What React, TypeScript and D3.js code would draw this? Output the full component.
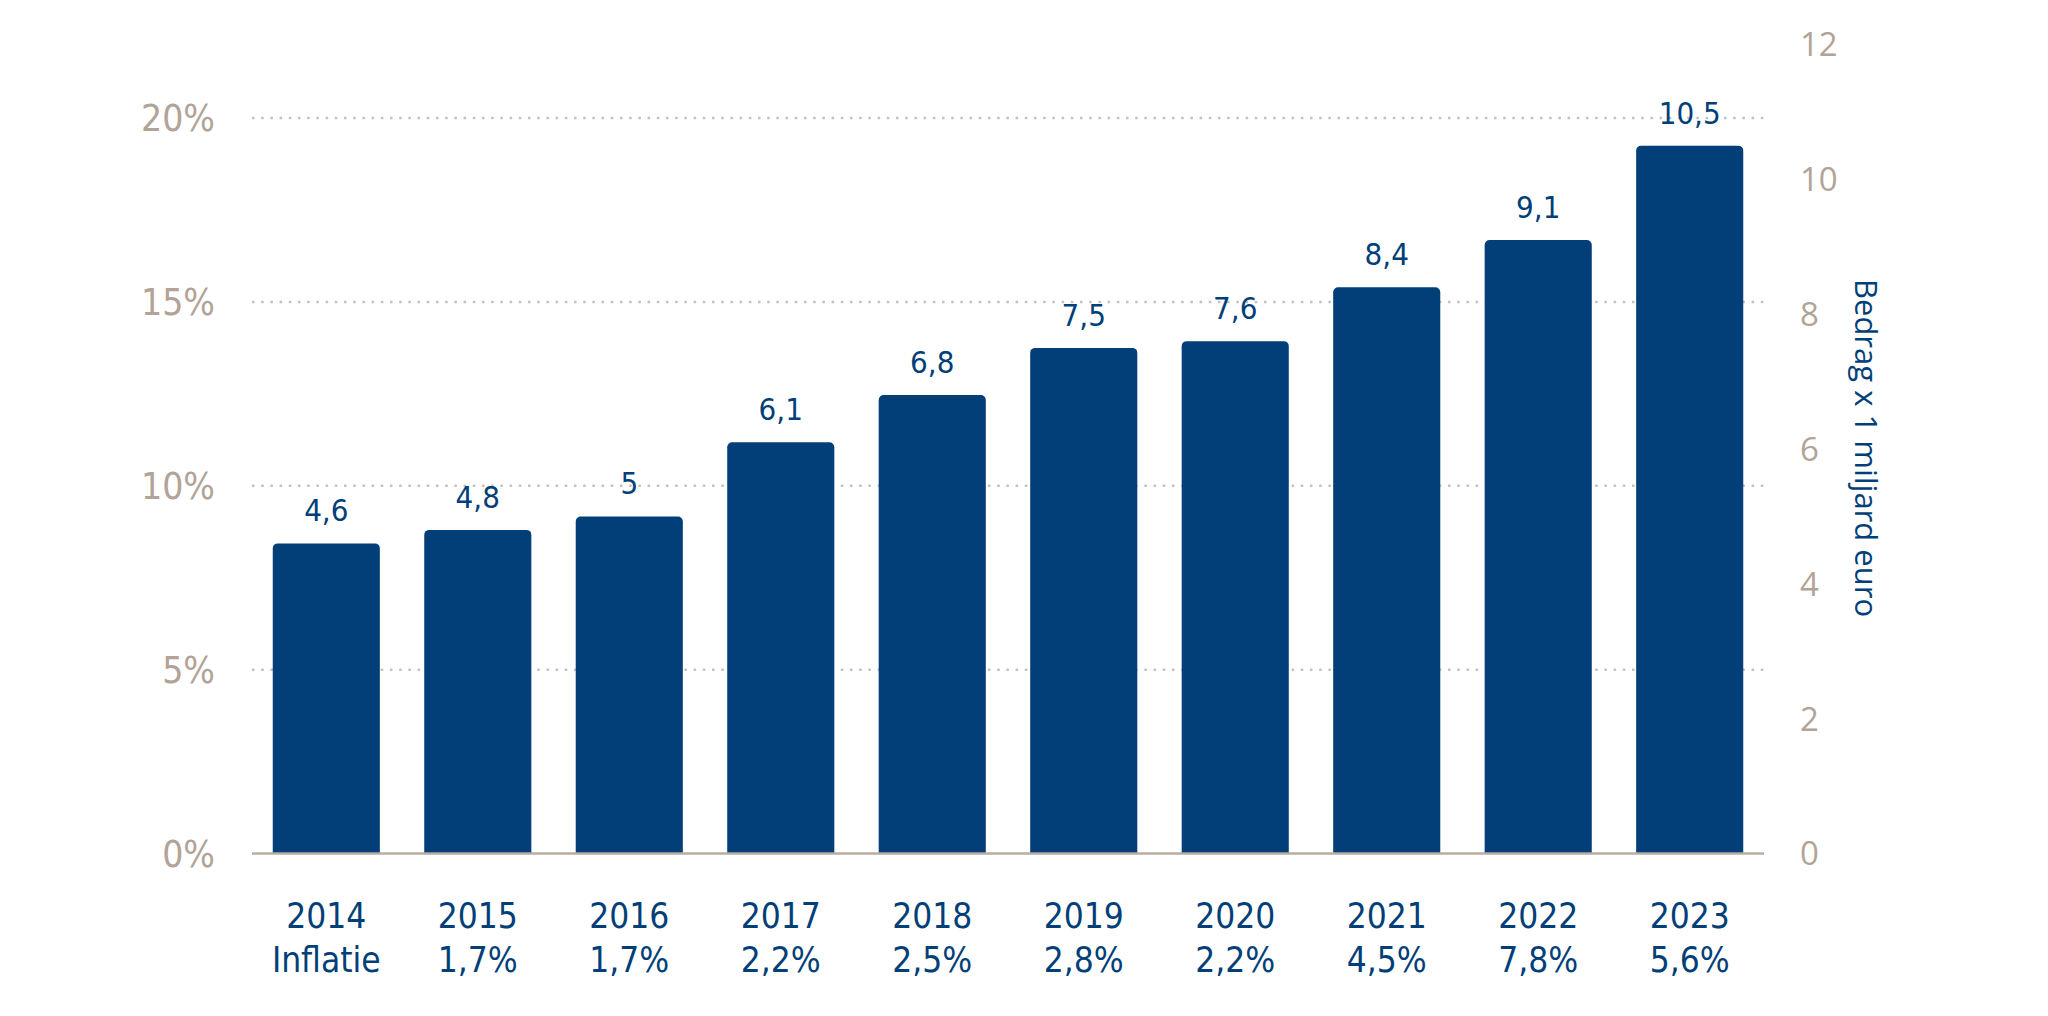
import * as d3 from "d3";
import { useEffect, useRef } from "react";

const years = ["2014", "2015", "2016", "2017", "2018", "2019", "2020", "2021", "2022", "2023"];
const amounts = [4.6, 4.8, 5, 6.1, 6.8, 7.5, 7.6, 8.4, 9.1, 10.5];
const amountLabels = ["4,6", "4,8", "5", "6,1", "6,8", "7,5", "7,6", "8,4", "9,1", "10,5"];
const inflation = ["Inflatie", "1,7%", "1,7%", "2,2%", "2,5%", "2,8%", "2,2%", "4,5%", "7,8%", "5,6%"];
const leftTicks = [0, 5, 10, 15, 20];
const rightTicks = [0, 2, 4, 6, 8, 10, 12];

const BLUE = "#023f78";
const TAN = "#b2a397";
const GRID = "#c2c2c2";
const NARROW = "'Liberation Sans Narrow', 'DejaVu Sans Condensed', 'Open Sans', sans-serif";
const REGULAR = "'Open Sans', 'Noto Sans', sans-serif";

export default function App() {
  const ref = useRef<SVGSVGElement | null>(null);

  useEffect(() => {
    const el = ref.current;
    if (!el) return;
    const svg = d3.select(el);
    svg.selectAll("*").remove();

    const W = 2048;
    const H = 1016;
    const x0 = 252;
    const x1 = 1764;
    const yBase = 853.5;
    const yTop = 44.5;

    const x = d3
      .scaleBand()
      .domain(years)
      .range([x0, x1])
      .paddingInner(0.293)
      .paddingOuter(0.137);
    const yPct = d3.scaleLinear().domain([0, 22]).range([yBase, yTop]);
    const yAmt = d3.scaleLinear().domain([0, 12]).range([yBase, yTop]);

    svg.attr("viewBox", `0 0 ${W} ${H}`).attr("width", W).attr("height", H);

    // dotted gridlines (left axis)
    svg
      .append("g")
      .selectAll("line")
      .data(leftTicks.filter((t) => t > 0))
      .join("line")
      .attr("x1", x0)
      .attr("x2", x1)
      .attr("y1", (d) => yPct(d))
      .attr("y2", (d) => yPct(d))
      .attr("stroke", GRID)
      .attr("stroke-width", 2.5)
      .attr("stroke-dasharray", "2.5,6.7");

    // left tick labels
    svg
      .append("g")
      .selectAll("text")
      .data(leftTicks)
      .join("text")
      .attr("x", 215)
      .attr("y", (d) => yPct(d))
      .attr("dy", "0.36em")
      .attr("text-anchor", "end")
      .attr("fill", TAN)
      .attr("font-family", NARROW)
      .attr("font-size", 37)
      .text((d) => `${d}%`);

    // right tick labels
    svg
      .append("g")
      .selectAll("text")
      .data(rightTicks)
      .join("text")
      .attr("x", 1800)
      .attr("y", (d) => yAmt(d))
      .attr("dy", "0.36em")
      .attr("text-anchor", "start")
      .attr("fill", TAN)
      .attr("font-family", REGULAR)
      .attr("font-size", 33)
      .text((d) => String(d));

    // bars with rounded tops
    const r = 5;
    svg
      .append("g")
      .selectAll("path")
      .data(amounts)
      .join("path")
      .attr("fill", BLUE)
      .attr("d", (d, i) => {
        const bx = x(years[i]) ?? 0;
        const bw = x.bandwidth();
        const top = yAmt(d);
        const p = d3.path();
        p.moveTo(bx, yBase);
        p.lineTo(bx, top + r);
        p.arcTo(bx, top, bx + r, top, r);
        p.lineTo(bx + bw - r, top);
        p.arcTo(bx + bw, top, bx + bw, top + r, r);
        p.lineTo(bx + bw, yBase);
        p.closePath();
        return p.toString();
      });

    // baseline
    svg
      .append("line")
      .attr("x1", x0)
      .attr("x2", x1)
      .attr("y1", yBase)
      .attr("y2", yBase)
      .attr("stroke", "#b8aca2")
      .attr("stroke-width", 2.5);

    // value labels
    svg
      .append("g")
      .selectAll("text")
      .data(amounts)
      .join("text")
      .attr("x", (_, i) => (x(years[i]) ?? 0) + x.bandwidth() / 2)
      .attr("y", (d) => yAmt(d) - 22)
      .attr("text-anchor", "middle")
      .attr("fill", BLUE)
      .attr("font-family", NARROW)
      .attr("font-size", 31)
      .text((_, i) => amountLabels[i]);

    // category labels
    const cat = svg
      .append("g")
      .selectAll("text")
      .data(years)
      .join("text")
      .attr("text-anchor", "middle")
      .attr("fill", BLUE)
      .attr("font-family", NARROW)
      .attr("font-size", 35);
    cat
      .append("tspan")
      .attr("x", (d) => (x(d) ?? 0) + x.bandwidth() / 2)
      .attr("y", 928)
      .text((d) => d);
    cat
      .append("tspan")
      .attr("x", (d) => (x(d) ?? 0) + x.bandwidth() / 2)
      .attr("y", 972)
      .text((_, i) => inflation[i]);

    // right axis title
    svg
      .append("text")
      .attr("transform", `translate(1855,448) rotate(90)`)
      .attr("text-anchor", "middle")
      .attr("fill", BLUE)
      .attr("font-family", REGULAR)
      .attr("font-weight", 500)
      .attr("font-size", 31)
      .text("Bedrag x 1 miljard euro");
  }, []);

  return (
    <div style={{ position: "absolute", left: 0, top: 0, background: "#fff" }}>
      <svg ref={ref} style={{ display: "block" }} />
    </div>
  );
}
